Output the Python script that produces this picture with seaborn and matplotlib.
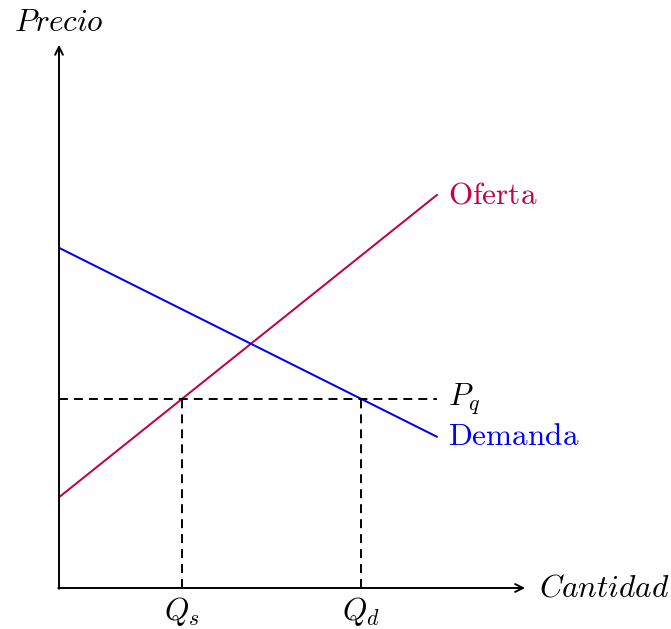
import matplotlib
matplotlib.use("Agg")
import matplotlib.pyplot as plt
import seaborn as sns
import pandas as pd

# -------------------------
# Data
# -------------------------
oferta_x = [0, 10]
oferta_y = [2.4, 10.4]
demanda_x = [0, 10]
demanda_y = [9, 4]
precio_q = 5
cantidad_s = 3.25
cantidad_d = 8
x_max = 12.33
y_max = 14.37

sns.set_style("white")
plt.rcParams['mathtext.fontset'] = 'cm'
plt.rcParams['text.color'] = 'black'

df = pd.DataFrame({
    'x': oferta_x + demanda_x,
    'y': oferta_y + demanda_y,
    'curva': ['Oferta'] * 2 + ['Demanda'] * 2,
})

fig = plt.figure(figsize=(6.71, 6.29), dpi=100)
ax = fig.add_axes([0, 0, 1, 1])

sns.lineplot(
    data=df, x='x', y='y', hue='curva',
    palette={'Oferta': '#C4004A', 'Demanda': '#0000FF'},
    linewidth=1.45, legend=False, ax=ax
)

# dashed guide lines
dash = (0, (4.6, 3.1))
ax.plot([0, oferta_x[1]], [precio_q, precio_q], color='black', lw=1.4, ls=dash)
ax.plot([cantidad_s, cantidad_s], [0, precio_q], color='black', lw=1.4, ls=dash)
ax.plot([cantidad_d, cantidad_d], [0, precio_q], color='black', lw=1.4, ls=dash)

# axes with arrows
arrow = dict(arrowstyle='->', color='black', lw=1.4, mutation_scale=14,
             shrinkA=0, shrinkB=0)
ax.annotate('', xy=(x_max, 0), xytext=(-0.02, 0), arrowprops=arrow)
ax.annotate('', xy=(0, y_max), xytext=(0, -0.02), arrowprops=arrow)

fs = 22.5
ax.text(0, 14.97, '$Precio$', ha='center', va='center', fontsize=fs, color='black')
ax.text(x_max + 0.38, 0, '$Cantidad$', ha='left', va='center', fontsize=fs, color='black')
ax.text(oferta_x[1] + 0.3, oferta_y[1], r'$\mathrm{Oferta}$', ha='left', va='center',
        fontsize=fs, color='#C4004A')
ax.text(demanda_x[1] + 0.3, demanda_y[1], r'$\mathrm{Demanda}$', ha='left', va='center',
        fontsize=fs, color='#0000FF')
ax.text(oferta_x[1] + 0.3, precio_q, '$P_q$', ha='left', va='center', fontsize=fs, color='black')
ax.text(cantidad_s, -0.63, '$Q_s$', ha='center', va='center', fontsize=fs, color='black')
ax.text(cantidad_d, -0.63, '$Q_d$', ha='center', va='center', fontsize=fs, color='black')

ax.set_xlim(-1.561, 16.19)
ax.set_ylim(-1.085, 15.556)
ax.axis('off')

plt.savefig("out.png", dpi=100)
